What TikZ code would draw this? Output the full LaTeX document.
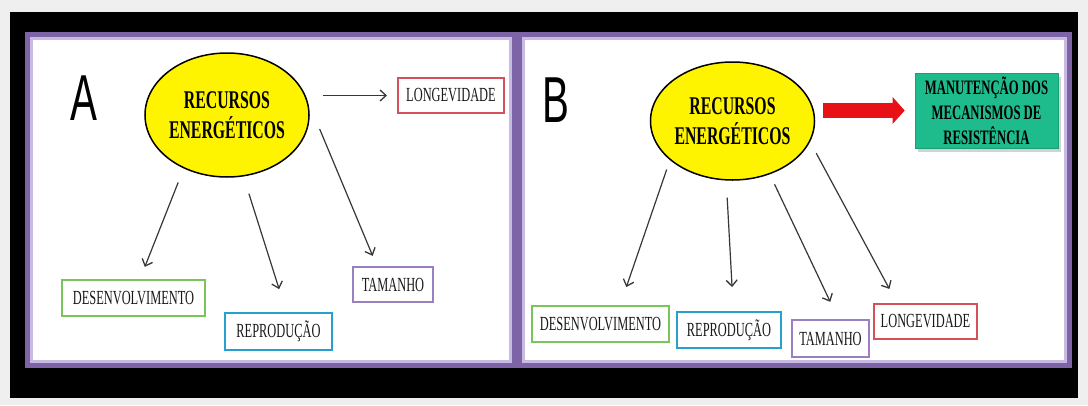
\documentclass[tikz,border=0pt]{standalone}
\usepackage{fontspec}
\setmainfont[FakeStretch=0.62]{Liberation Serif}
\newfontfamily\letrafont[FakeStretch=0.62]{Liberation Sans}
\usetikzlibrary{arrows,arrows.meta,shapes,shadows}
\definecolor{fundo}{RGB}{239,239,239}
\definecolor{roxo}{RGB}{124,100,166}
\definecolor{lilas}{RGB}{200,186,226}
\definecolor{amarelo}{RGB}{255,244,0}
\definecolor{verde}{RGB}{122,196,92}
\definecolor{azul}{RGB}{38,160,206}
\definecolor{violeta}{RGB}{154,128,192}
\definecolor{vermelho}{RGB}{214,80,90}
\definecolor{verdeagua}{RGB}{30,188,140}
\definecolor{setavermelha}{RGB}{232,18,22}
\definecolor{cinzaseta}{RGB}{55,55,55}
\tikzset{
    painel/.style={-,draw=roxo,line width=5pt,fill=white},
    borda/.style={-,draw=lilas,line width=2.5pt},
    recurso/.style={shape=ellipse,draw=black,line width=1.5pt,fill=amarelo,inner sep=0pt,align=center,
        font=\bfseries\fontsize{25.5}{29.5}\selectfont},
    caixa/.style={shape=rectangle,draw=#1,line width=2pt,fill=white,inner sep=0pt,minimum height=35pt,
        text=black!90,font=\fontsize{20}{22}\selectfont},
    letra/.style={font=\letrafont\fontsize{65}{70}\selectfont},
    manutencao/.style={shape=rectangle,fill=verdeagua,draw=verdeagua!85!black,line width=0.6pt,align=center,
        drop shadow={shadow xshift=3pt,shadow yshift=-4pt,fill=black!35},
        font=\bfseries\fontsize{20.5}{25}\selectfont},
    bloco/.style={-{Triangle[length=12pt,width=26pt]},draw=setavermelha,line width=15pt}
}
\begin{document}
\begin{tikzpicture}[x=1pt,y=-1pt,->,>={Straight Barb[length=6pt,width=11pt,line width=1.3pt]},semithick,
            every edge/.style={draw=cinzaseta,line width=1.2pt}]
            \useasboundingbox (0,0) rectangle (1088,405);
            \fill[fundo] (0,0) rectangle (1088,405);
            \fill[black] (10,12) rectangle (1078,398);
            \draw[painel] (27.5,34.5) rectangle (514.5,365.5);
            \draw[painel] (519.5,34.5) rectangle (1069.5,365.5);
            \draw[borda] (31.5,38.5) rectangle (510.5,361.5);
            \draw[borda] (523.5,38.5) rectangle (1065.5,361.5);
            \node[letra](letraA)at(83.5, 98.5){A};
            \node[recurso,minimum width=143pt,minimum height=124pt](recA)at(227, 115){RECURSOS\\ENERGÉTICOS};
            \node[caixa=vermelho,minimum width=106pt](lonA)at(451, 95.5){LONGEVIDADE};
            \node[caixa=verde,minimum width=143pt,minimum height=36pt](desA)at(133.5, 298){DESENVOLVIMENTO};
            \node[caixa=azul,minimum width=107pt,minimum height=37pt](repA)at(278.5, 331.5){REPRODUÇÃO};
            \node[caixa=violeta,minimum width=80pt](tamA)at(393, 284.5){TAMANHO};
            \node[letra](letraB)at(556, 100){B};
            \node[recurso,minimum width=139pt,minimum height=118pt](recB)at(732.5, 121){RECURSOS\\ENERGÉTICOS};
            \node[manutencao,minimum width=143pt,minimum height=75pt](mant)at(986.5, 110.5){MANUTENÇÃO DOS\\MECANISMOS DE\\RESISTÊNCIA};
            \node[caixa=verde,minimum width=137pt,minimum height=36pt](desB)at(600.5, 324){DESENVOLVIMENTO};
            \node[caixa=azul,minimum width=104pt,minimum height=36pt](repB)at(729, 330){REPRODUÇÃO};
            \node[caixa=violeta,minimum width=77pt,minimum height=37pt](tamB)at(830.5, 338.5){TAMANHO};
            \node[caixa=vermelho,minimum width=103pt](lonB)at(925.5, 321.5){LONGEVIDADE};
            \path[](recA.east |- lonA.west) edge [shorten <=13pt,shorten >=10pt] (lonA.west)
            (recA.231) edge [shorten <=15pt,shorten >=13pt] (desA.71)
            (recA.285) edge [shorten <=18pt,shorten >=24pt] (repA.68)
            (recA.13) edge [shorten <=35pt,shorten >=11pt] (tamA.131)
            (recB.212) edge [shorten <=10pt,shorten >=19pt] (desB.44)
            (recB.264) edge [shorten <=17pt,shorten >=24pt] (repB.77)
            (recB.305) edge [shorten <=11pt,shorten >=19pt] (tamB.68)
            (recB.345) edge [shorten <=13pt,shorten >=16pt] (lonB.147);
            \draw[bloco,shorten <=8pt,shorten >=10pt](recB.east |- mant.west) -- (mant.west);
        \end{tikzpicture}
\end{document}
